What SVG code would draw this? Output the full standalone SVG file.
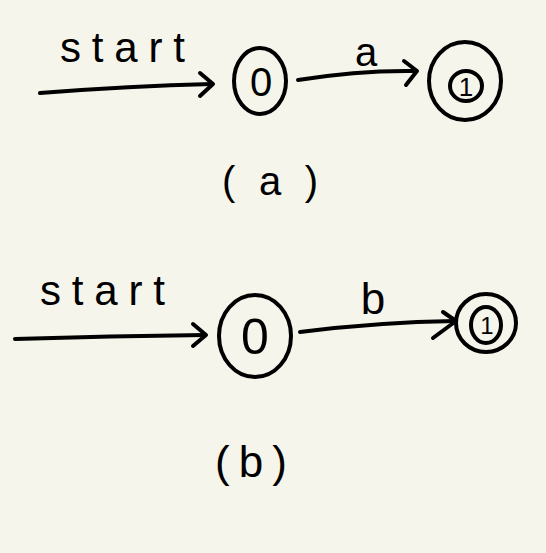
<svg xmlns="http://www.w3.org/2000/svg" width="546" height="553" viewBox="0 0 546 553">
<defs>
<style>
.ln{fill:none;stroke:#000;stroke-width:4;stroke-linecap:round;stroke-linejoin:round}
.t{font-family:"Liberation Sans","DejaVu Sans",sans-serif;fill:#000}
</style>
</defs>
<rect width="546" height="553" fill="#F5F5EB"/>
<g id="connectors">
<path class="ln" d="M40,93 Q130,86 212,84"/>
<path class="ln" d="M213,84 L200,73 M213,84 L200,96"/>
<path class="ln" d="M298,80 Q360,70 416,71"/>
<path class="ln" d="M417,71 L404,61 M417,71 L406,85"/>
<path class="ln" d="M15,339 Q110,336 205,335"/>
<path class="ln" d="M206,335 L193,324 M206,335 L193,346"/>
<path class="ln" d="M300,332 Q380,322 455,321"/>
<path class="ln" d="M456,321 L443,312 M456,321 L433,338"/>
</g>
<g id="label-start-a"><text class="t" x="60" y="62" font-size="42" textLength="125" lengthAdjust="spacing">start</text></g>
<g id="label-start-b"><text class="t" x="40" y="305" font-size="42" textLength="125" lengthAdjust="spacing">start</text></g>
<g id="label-a"><text class="t" x="366" y="66" font-size="40" text-anchor="middle">a</text></g>
<g id="label-b"><text class="t" x="373" y="314" font-size="44" text-anchor="middle">b</text></g>
<g id="node-a0">
<ellipse class="ln" cx="260" cy="81" rx="26" ry="33"/>
<text class="t" x="261" y="96" font-size="40" text-anchor="middle">0</text>
</g>
<g id="node-a1">
<ellipse class="ln" cx="465" cy="81" rx="36" ry="39"/>
<ellipse class="ln" cx="466" cy="86" rx="16" ry="15"/>
<text class="t" x="466" y="96" font-size="26" text-anchor="middle">1</text>
</g>
<g id="node-b0">
<ellipse class="ln" cx="255" cy="336" rx="36" ry="41"/>
<text class="t" x="255" y="354" font-size="50" text-anchor="middle">0</text>
</g>
<g id="node-b1">
<ellipse class="ln" cx="486" cy="323" rx="30" ry="29"/>
<ellipse class="ln" cx="486" cy="325" rx="15" ry="18"/>
<text class="t" x="487" y="334" font-size="24" text-anchor="middle">1</text>
</g>
<g id="caption-a"><text class="t" x="222" y="195" font-size="40" textLength="96" lengthAdjust="spacing">(a)</text></g>
<g id="caption-b"><text class="t" x="215" y="477" font-size="44" textLength="72" lengthAdjust="spacing">(b)</text></g>
</svg>
